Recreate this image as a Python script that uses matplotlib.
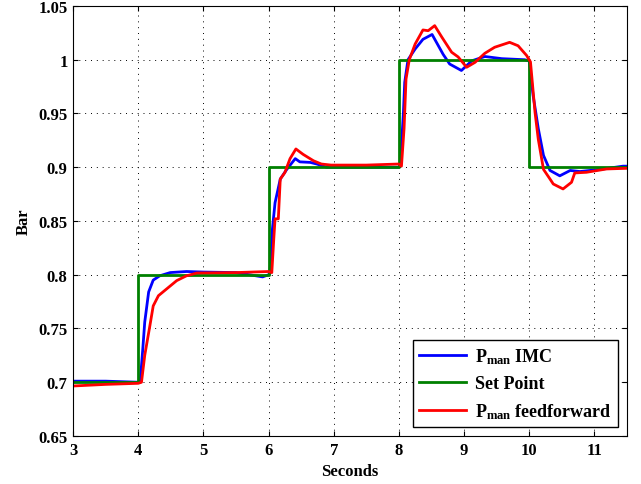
import numpy as np
import matplotlib.pyplot as plt

plt.rcParams['font.family'] = ['Liberation Serif', 'DejaVu Serif']
plt.rcParams['font.weight'] = 'bold'
plt.rcParams['mathtext.fontset'] = 'custom'
plt.rcParams['mathtext.rm'] = 'Liberation Serif:bold'
plt.rcParams['mathtext.bf'] = 'Liberation Serif:bold'
plt.rcParams['mathtext.it'] = 'Liberation Serif:bold'

# set point (step signal)
sp_t = [3, 4, 4, 6, 6, 8, 8, 10, 10, 11.5]
sp_v = [0.7, 0.7, 0.8, 0.8, 0.9, 0.9, 1.0, 1.0, 0.9, 0.9]

# P_man with IMC
imc_t = [3.0, 3.5, 4.0, 4.03, 4.07, 4.10, 4.16, 4.23, 4.33, 4.49, 4.74, 5.0, 5.5, 5.91, 6.0,
         6.02, 6.06, 6.10, 6.18, 6.28, 6.41, 6.48, 6.64, 6.74, 6.89, 7.5, 8.0,
         8.02, 8.04, 8.07, 8.09, 8.14, 8.25, 8.37, 8.51, 8.68, 8.78, 8.96, 9.12, 9.32, 9.58, 9.93, 10.0,
         10.06, 10.14, 10.22, 10.32, 10.47, 10.63, 10.78, 11.09, 11.44, 11.5]
imc_v = [0.701, 0.701, 0.700, 0.700, 0.731, 0.756, 0.784, 0.795, 0.799, 0.802, 0.803, 0.8025, 0.802, 0.798, 0.800,
         0.801, 0.843, 0.867, 0.889, 0.898, 0.908, 0.905, 0.9045, 0.903, 0.900, 0.900, 0.900,
         0.901, 0.920, 0.951, 0.979, 1.000, 1.010, 1.019, 1.0235, 1.005, 0.996, 0.990, 0.999, 1.003, 1.001, 1.000, 0.999,
         0.967, 0.936, 0.911, 0.897, 0.892, 0.897, 0.896, 0.898, 0.901, 0.901]

# P_man with feedforward
ff_t = [3.0, 3.5, 4.0, 4.05, 4.10, 4.18, 4.23, 4.31, 4.44, 4.59, 4.74, 4.90, 5.5, 6.0,
        6.05, 6.08, 6.10, 6.15, 6.18, 6.25, 6.33, 6.42, 6.53, 6.69, 6.81, 6.96, 7.5, 8.0,
        8.04, 8.08, 8.11, 8.16, 8.25, 8.37, 8.45, 8.55, 8.66, 8.81, 8.91, 9.04, 9.17, 9.32, 9.47, 9.70, 9.83, 9.96, 10.02,
        10.09, 10.14, 10.22, 10.32, 10.37, 10.52, 10.65, 10.70, 10.88, 11.19, 11.5]
ff_v = [0.6965, 0.698, 0.699, 0.700, 0.725, 0.753, 0.771, 0.7805, 0.787, 0.7945, 0.799, 0.8016, 0.802, 0.803,
        0.802, 0.833, 0.852, 0.852, 0.889, 0.895, 0.908, 0.917, 0.912, 0.906, 0.903, 0.902, 0.902, 0.903,
        0.901, 0.936, 0.982, 1.000, 1.0146, 1.0277, 1.027, 1.0317, 1.021, 1.007, 1.0026, 0.993, 0.9976, 1.006, 1.0116, 1.0162, 1.013, 1.004, 0.998,
        0.951, 0.926, 0.898, 0.889, 0.8844, 0.8798, 0.886, 0.8947, 0.8953, 0.8984, 0.899]

fig = plt.figure(figsize=(6.41, 4.85), dpi=100)
ax = fig.add_axes([0.114, 0.099, 0.864, 0.8866])

ax.plot(imc_t, imc_v, color='#0000ff', lw=2, label=r'P$_{\mathregular{man}}$ IMC')
ax.plot(sp_t, sp_v, color='#008000', lw=2, label='Set Point')
ax.plot(ff_t, ff_v, color='#ff0000', lw=2, label=r'P$_{\mathregular{man}}$ feedforward')

ax.set_xlim(3, 11.5)
ax.set_ylim(0.65, 1.05)
ax.set_xticks(range(3, 12))
ax.set_yticks(np.arange(0.65, 1.051, 0.05))
ax.set_yticklabels(['0.65', '0.7', '0.75', '0.8', '0.85', '0.9', '0.95', '1', '1.05'])
ax.grid(True, linestyle=(0, (1, 5)), color='black', lw=0.7)
ax.tick_params(direction='in', labelsize=12, top=True, right=True, pad=4)
for lab in ax.get_xticklabels() + ax.get_yticklabels():
    lab.set_fontweight('bold')
ax.set_xlabel('Seconds', fontsize=12, fontweight='bold', labelpad=4)
ax.set_ylabel('Bar', fontsize=12, fontweight='bold', labelpad=5)

leg = ax.legend(loc='lower right', fontsize=13, fancybox=False, edgecolor='black',
                framealpha=1, borderaxespad=0.5, handlelength=2.6, handletextpad=0.5,
                labelspacing=0.5, borderpad=0.35)
leg.get_frame().set_linewidth(1.0)

fig.savefig('out.png', dpi=100)
